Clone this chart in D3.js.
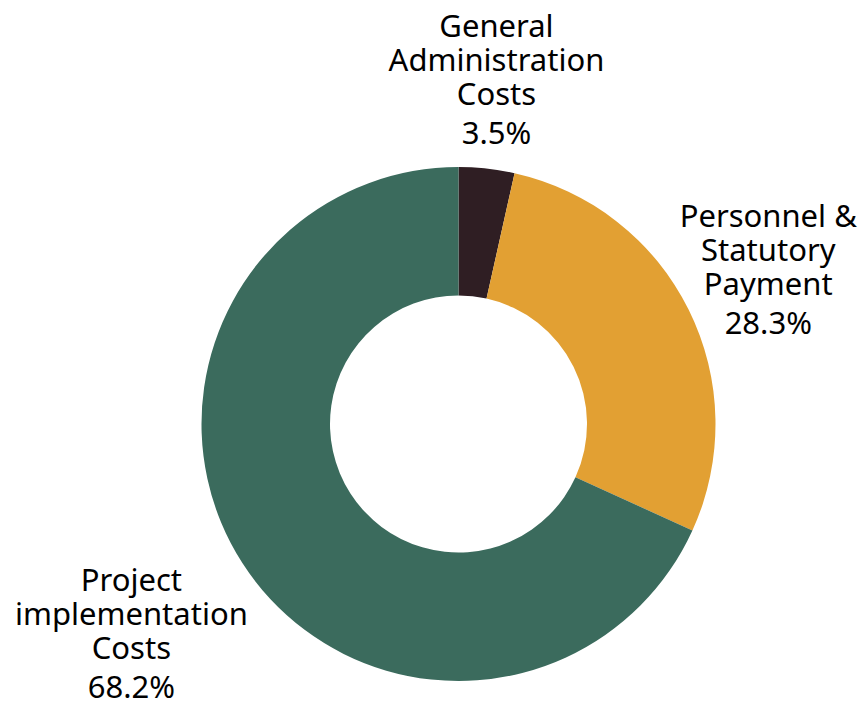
<!DOCTYPE html>
<html>
<head>
<meta charset="utf-8">
<script src="https://cdn.jsdelivr.net/npm/d3@7"></script>
<style>
  body { margin: 0; background: #fff; }
  text { font-family: "Noto Sans", "Open Sans", sans-serif; fill: #000; }
</style>
</head>
<body>
<div id="chart"></div>
<script>
// data
var categories = ["General Administration Costs", "Personnel & Statutory Payment", "Project implementation Costs"];
var labelLines = [["General", "Administration", "Costs"], ["Personnel &", "Statutory", "Payment"], ["Project", "implementation", "Costs"]];
var shares = [3.5, 28.3, 68.2];
var colors = ["#2f1e23", "#e2a033", "#3b6b5d"];

var width = 864, height = 702,
    cx = 458.5, cy = 424,
    outerRadius = 257, innerRadius = 128.5;

// how far out each label sits (the big slice's label sits further out)
var labelRadius = [346, 346, 389];

var svg = d3.select("#chart")
  .append("svg")
    .attr("width", width)
    .attr("height", height);

var g = svg.append("g")
    .attr("transform", "translate(" + cx + "," + cy + ")");

var pie = d3.pie()
    .sort(null)
    .value(function(d) { return d; });

var arcs = pie(shares);

var arc = d3.arc()
    .innerRadius(innerRadius)
    .outerRadius(outerRadius);

g.selectAll("path")
  .data(arcs)
  .enter().append("path")
    .attr("d", arc)
    .attr("fill", function(d, i) { return colors[i]; });

// labels
var label = g.selectAll("g.label")
  .data(arcs)
  .enter().append("g")
    .attr("class", "label")
    .attr("transform", function(d, i) {
      var r = labelRadius[i];
      var c = d3.arc().innerRadius(r).outerRadius(r).centroid(d);
      return "translate(" + c[0] + "," + c[1] + ")";
    });

var lineH = 34, pctGap = 39, firstOffset = -43;

label.each(function(d, i) {
  var t = d3.select(this).append("text")
      .attr("text-anchor", "middle")
      .style("font-size", "31px");
  labelLines[i].forEach(function(s, k) {
    t.append("tspan").attr("x", 0).attr("y", firstOffset + k * lineH).text(s);
  });
  t.append("tspan")
      .attr("x", 0)
      .attr("y", firstOffset + (labelLines[i].length - 1) * lineH + pctGap)
      .text(d3.format(".1f")(shares[i]) + "%");
});
</script>
</body>
</html>
